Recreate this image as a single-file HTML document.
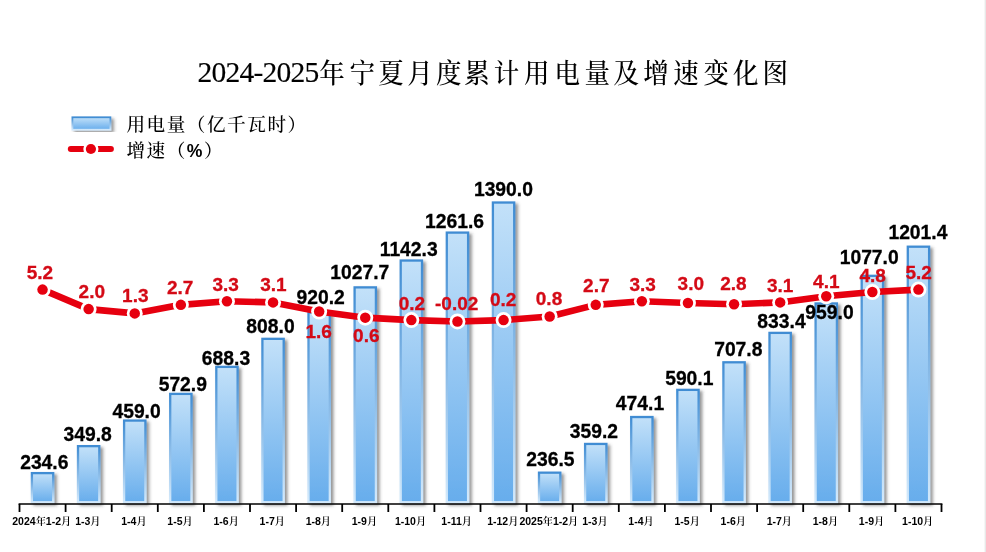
<!DOCTYPE html>
<html lang="zh"><head><meta charset="utf-8"><title>2024-2025年宁夏月度累计用电量及增速变化图</title>
<style>
html,body{margin:0;padding:0;background:#fff;}
body{width:986px;height:552px;overflow:hidden;position:relative;}
svg{display:block;position:absolute;left:0;top:0;}
.t{font-family:"Liberation Serif","Noto Serif CJK SC",serif;font-size:29.5px;fill:#000;stroke:#000;stroke-width:0.15px;}
.tc{font-family:"Liberation Serif","Noto Serif CJK SC",serif;font-size:25.5px;font-weight:500;fill:#000;}
.lg{font-family:"Liberation Serif","Noto Serif CJK SC",serif;font-size:18.6px;font-weight:500;letter-spacing:1.55px;fill:#000;}
.lgb{font-family:"Liberation Sans","Noto Sans CJK SC",sans-serif;font-weight:bold;font-size:17.6px;}
.bl{font-family:"Liberation Sans","Noto Sans CJK SC",sans-serif;font-weight:bold;font-size:19.3px;fill:#000;stroke:#000;stroke-width:0.3px;text-anchor:middle;}
.rl{font-family:"Liberation Sans","Noto Sans CJK SC",sans-serif;font-weight:bold;font-size:19px;fill:#d40a16;stroke:#d40a16;stroke-width:0.3px;text-anchor:middle;}
.cl{font-family:"Liberation Sans","Noto Serif CJK SC",sans-serif;font-weight:bold;font-size:10.5px;fill:#000;text-anchor:middle;}
.cj{font-family:"Liberation Sans","Noto Serif CJK SC",sans-serif;font-weight:600;font-size:10.2px;}
</style></head><body>
<svg width="986" height="552" viewBox="0 0 986 552">
<defs>
<linearGradient id="gf" x1="0" y1="0" x2="0" y2="1"><stop offset="0" stop-color="#c3e1f9"/><stop offset="1" stop-color="#67adec"/></linearGradient>
<linearGradient id="gs" x1="0" y1="0" x2="0" y2="1"><stop offset="0" stop-color="#3f8cd3"/><stop offset="1" stop-color="#d3e9fb"/></linearGradient>
<filter id="sh" x="-30%" y="-10%" width="170%" height="125%"><feDropShadow dx="2.6" dy="2.2" stdDeviation="1.4" flood-color="#404040" flood-opacity="0.55"/></filter>
</defs>
<rect x="0" y="0" width="986" height="552" fill="#ffffff"/>
<rect x="984.6" y="0" width="1.4" height="552" fill="#e8e8e8"/>
<text class="t" x="197.6" y="82.2" textLength="121.6" lengthAdjust="spacing">2024-2025</text>
<text class="tc" transform="translate(0,83) scale(1,1.07)" x="319.2 349.4 378.2 407.2 435.9 464.2 493.8 523.9 554.5 584.4 613.5 643.2 673.2 703.5 733.0 762.5" y="0">年宁夏月度累计用电量及增速变化图</text>
<g filter="url(#sh)"><rect x="72.4" y="117.3" width="38.0" height="12.4" fill="url(#gf)" stroke="url(#gs)" stroke-width="1.8"/></g>
<text class="lg" x="126.4" y="131">用电量（亿千瓦时）</text>
<line x1="70.8" y1="149" x2="110.9" y2="149" stroke="#e6000f" stroke-width="6" stroke-linecap="round"/>
<circle cx="90.9" cy="149" r="7.6" fill="#fff"/><circle cx="90.9" cy="149" r="5.1" fill="#e6000f"/>
<text class="lg" x="126.4" y="156.5">增速（<tspan class="lgb">%</tspan>）</text>
<g filter="url(#sh)">
<rect x="31.90" y="473.13" width="21.30" height="29.12" fill="url(#gf)" stroke="url(#gs)" stroke-width="2.3"/>
<rect x="78.00" y="446.15" width="21.30" height="56.10" fill="url(#gf)" stroke="url(#gs)" stroke-width="2.3"/>
<rect x="124.10" y="420.57" width="21.30" height="81.68" fill="url(#gf)" stroke="url(#gs)" stroke-width="2.3"/>
<rect x="170.20" y="393.90" width="21.30" height="108.35" fill="url(#gf)" stroke="url(#gs)" stroke-width="2.3"/>
<rect x="216.30" y="366.87" width="21.30" height="135.38" fill="url(#gf)" stroke="url(#gs)" stroke-width="2.3"/>
<rect x="262.40" y="338.84" width="21.30" height="163.41" fill="url(#gf)" stroke="url(#gs)" stroke-width="2.3"/>
<rect x="308.50" y="312.56" width="21.30" height="189.69" fill="url(#gf)" stroke="url(#gs)" stroke-width="2.3"/>
<rect x="354.60" y="287.38" width="21.30" height="214.87" fill="url(#gf)" stroke="url(#gs)" stroke-width="2.3"/>
<rect x="400.70" y="260.54" width="21.30" height="241.71" fill="url(#gf)" stroke="url(#gs)" stroke-width="2.3"/>
<rect x="446.80" y="232.60" width="21.30" height="269.65" fill="url(#gf)" stroke="url(#gs)" stroke-width="2.3"/>
<rect x="492.90" y="202.53" width="21.30" height="299.72" fill="url(#gf)" stroke="url(#gs)" stroke-width="2.3"/>
<rect x="539.00" y="472.68" width="21.30" height="29.57" fill="url(#gf)" stroke="url(#gs)" stroke-width="2.3"/>
<rect x="585.10" y="443.95" width="21.30" height="58.30" fill="url(#gf)" stroke="url(#gs)" stroke-width="2.3"/>
<rect x="631.20" y="417.04" width="21.30" height="85.21" fill="url(#gf)" stroke="url(#gs)" stroke-width="2.3"/>
<rect x="677.30" y="389.87" width="21.30" height="112.38" fill="url(#gf)" stroke="url(#gs)" stroke-width="2.3"/>
<rect x="723.40" y="362.30" width="21.30" height="139.95" fill="url(#gf)" stroke="url(#gs)" stroke-width="2.3"/>
<rect x="769.50" y="332.89" width="21.30" height="169.36" fill="url(#gf)" stroke="url(#gs)" stroke-width="2.3"/>
<rect x="815.60" y="303.47" width="21.30" height="198.78" fill="url(#gf)" stroke="url(#gs)" stroke-width="2.3"/>
<rect x="861.70" y="275.84" width="21.30" height="226.41" fill="url(#gf)" stroke="url(#gs)" stroke-width="2.3"/>
<rect x="907.80" y="246.70" width="21.30" height="255.55" fill="url(#gf)" stroke="url(#gs)" stroke-width="2.3"/>
</g>
<line x1="18.60" y1="504.0" x2="942.40" y2="504.0" stroke="#000" stroke-width="1.7"/>
<line x1="19.50" y1="504.0" x2="19.50" y2="512.00" stroke="#000" stroke-width="1.8"/>
<line x1="65.60" y1="504.0" x2="65.60" y2="512.00" stroke="#000" stroke-width="1.8"/>
<line x1="111.70" y1="504.0" x2="111.70" y2="512.00" stroke="#000" stroke-width="1.8"/>
<line x1="157.80" y1="504.0" x2="157.80" y2="512.00" stroke="#000" stroke-width="1.8"/>
<line x1="203.90" y1="504.0" x2="203.90" y2="512.00" stroke="#000" stroke-width="1.8"/>
<line x1="250.00" y1="504.0" x2="250.00" y2="512.00" stroke="#000" stroke-width="1.8"/>
<line x1="296.10" y1="504.0" x2="296.10" y2="512.00" stroke="#000" stroke-width="1.8"/>
<line x1="342.20" y1="504.0" x2="342.20" y2="512.00" stroke="#000" stroke-width="1.8"/>
<line x1="388.30" y1="504.0" x2="388.30" y2="512.00" stroke="#000" stroke-width="1.8"/>
<line x1="434.40" y1="504.0" x2="434.40" y2="512.00" stroke="#000" stroke-width="1.8"/>
<line x1="480.50" y1="504.0" x2="480.50" y2="512.00" stroke="#000" stroke-width="1.8"/>
<line x1="526.60" y1="504.0" x2="526.60" y2="512.00" stroke="#000" stroke-width="1.8"/>
<line x1="572.70" y1="504.0" x2="572.70" y2="512.00" stroke="#000" stroke-width="1.8"/>
<line x1="618.80" y1="504.0" x2="618.80" y2="512.00" stroke="#000" stroke-width="1.8"/>
<line x1="664.90" y1="504.0" x2="664.90" y2="512.00" stroke="#000" stroke-width="1.8"/>
<line x1="711.00" y1="504.0" x2="711.00" y2="512.00" stroke="#000" stroke-width="1.8"/>
<line x1="757.10" y1="504.0" x2="757.10" y2="512.00" stroke="#000" stroke-width="1.8"/>
<line x1="803.20" y1="504.0" x2="803.20" y2="512.00" stroke="#000" stroke-width="1.8"/>
<line x1="849.30" y1="504.0" x2="849.30" y2="512.00" stroke="#000" stroke-width="1.8"/>
<line x1="895.40" y1="504.0" x2="895.40" y2="512.00" stroke="#000" stroke-width="1.8"/>
<line x1="941.50" y1="504.0" x2="941.50" y2="512.00" stroke="#000" stroke-width="1.8"/>
<text class="cl" x="41.75" y="524.8">2024<tspan class="cj">年</tspan>1-2<tspan class="cj">月</tspan></text>
<text class="cl" x="87.85" y="524.8">1-3<tspan class="cj">月</tspan></text>
<text class="cl" x="133.95" y="524.8">1-4<tspan class="cj">月</tspan></text>
<text class="cl" x="180.05" y="524.8">1-5<tspan class="cj">月</tspan></text>
<text class="cl" x="226.15" y="524.8">1-6<tspan class="cj">月</tspan></text>
<text class="cl" x="272.25" y="524.8">1-7<tspan class="cj">月</tspan></text>
<text class="cl" x="318.35" y="524.8">1-8<tspan class="cj">月</tspan></text>
<text class="cl" x="364.45" y="524.8">1-9<tspan class="cj">月</tspan></text>
<text class="cl" x="410.55" y="524.8">1-10<tspan class="cj">月</tspan></text>
<text class="cl" x="456.65" y="524.8">1-11<tspan class="cj">月</tspan></text>
<text class="cl" x="502.75" y="524.8">1-12<tspan class="cj">月</tspan></text>
<text class="cl" x="548.85" y="524.8">2025<tspan class="cj">年</tspan>1-2<tspan class="cj">月</tspan></text>
<text class="cl" x="594.95" y="524.8">1-3<tspan class="cj">月</tspan></text>
<text class="cl" x="641.05" y="524.8">1-4<tspan class="cj">月</tspan></text>
<text class="cl" x="687.15" y="524.8">1-5<tspan class="cj">月</tspan></text>
<text class="cl" x="733.25" y="524.8">1-6<tspan class="cj">月</tspan></text>
<text class="cl" x="779.35" y="524.8">1-7<tspan class="cj">月</tspan></text>
<text class="cl" x="825.45" y="524.8">1-8<tspan class="cj">月</tspan></text>
<text class="cl" x="871.55" y="524.8">1-9<tspan class="cj">月</tspan></text>
<text class="cl" x="917.65" y="524.8">1-10<tspan class="cj">月</tspan></text>
<text class="bl" x="44.3" y="469.1">234.6</text>
<text class="bl" x="87.7" y="440.9">349.8</text>
<text class="bl" x="136.6" y="418.3">459.0</text>
<text class="bl" x="182.8" y="391.1">572.9</text>
<text class="bl" x="226.0" y="365.3">688.3</text>
<text class="bl" x="270.5" y="333.0">808.0</text>
<text class="bl" x="320.7" y="304.3">920.2</text>
<text class="bl" x="359.8" y="279.2">1027.7</text>
<text class="bl" x="408.7" y="256.4">1142.3</text>
<text class="bl" x="454.6" y="228.0">1261.6</text>
<text class="bl" x="503.4" y="196.1">1390.0</text>
<text class="bl" x="550.4" y="465.7">236.5</text>
<text class="bl" x="593.9" y="438.0">359.2</text>
<text class="bl" x="640.0" y="409.6">474.1</text>
<text class="bl" x="689.3" y="385.2">590.1</text>
<text class="bl" x="738.3" y="355.8">707.8</text>
<text class="bl" x="781.5" y="327.5">833.4</text>
<text class="bl" x="829.5" y="319.3">959.0</text>
<text class="bl" x="869.2" y="263.9">1077.0</text>
<text class="bl" x="917.9" y="239.4">1201.4</text>
<path d="M42.55,289.60 C42.55,289.60 88.65,309.12 88.65,309.12 C88.65,309.12 134.75,313.39 134.75,313.39 C134.75,313.39 180.85,304.85 180.85,304.85 C180.85,304.85 226.95,301.19 226.95,301.19 C226.95,301.19 273.05,302.41 273.05,302.41 C273.05,302.41 319.15,311.56 319.15,311.56 C319.15,311.56 365.25,317.66 365.25,317.66 C365.25,317.66 411.35,320.10 411.35,320.10 C411.35,320.10 457.45,321.44 457.45,321.44 C457.45,321.44 503.55,320.10 503.55,320.10 C503.55,320.10 549.65,316.44 549.65,316.44 C549.65,316.44 595.75,304.85 595.75,304.85 C595.75,304.85 641.85,301.19 641.85,301.19 C641.85,301.19 687.95,303.02 687.95,303.02 C687.95,303.02 734.05,304.24 734.05,304.24 C734.05,304.24 780.15,302.41 780.15,302.41 C780.15,302.41 826.25,296.31 826.25,296.31 C826.25,296.31 872.35,292.04 872.35,292.04 C872.35,292.04 918.45,289.60 918.45,289.60" fill="none" stroke="#e6000f" stroke-width="6.6" stroke-linejoin="round" stroke-linecap="round"/>
<circle cx="42.55" cy="289.60" r="8.0" fill="#fff"/><circle cx="42.55" cy="289.60" r="5.25" fill="#e6000f"/>
<circle cx="88.65" cy="309.12" r="8.0" fill="#fff"/><circle cx="88.65" cy="309.12" r="5.25" fill="#e6000f"/>
<circle cx="134.75" cy="313.39" r="8.0" fill="#fff"/><circle cx="134.75" cy="313.39" r="5.25" fill="#e6000f"/>
<circle cx="180.85" cy="304.85" r="8.0" fill="#fff"/><circle cx="180.85" cy="304.85" r="5.25" fill="#e6000f"/>
<circle cx="226.95" cy="301.19" r="8.0" fill="#fff"/><circle cx="226.95" cy="301.19" r="5.25" fill="#e6000f"/>
<circle cx="273.05" cy="302.41" r="8.0" fill="#fff"/><circle cx="273.05" cy="302.41" r="5.25" fill="#e6000f"/>
<circle cx="319.15" cy="311.56" r="8.0" fill="#fff"/><circle cx="319.15" cy="311.56" r="5.25" fill="#e6000f"/>
<circle cx="365.25" cy="317.66" r="8.0" fill="#fff"/><circle cx="365.25" cy="317.66" r="5.25" fill="#e6000f"/>
<circle cx="411.35" cy="320.10" r="8.0" fill="#fff"/><circle cx="411.35" cy="320.10" r="5.25" fill="#e6000f"/>
<circle cx="457.45" cy="321.44" r="8.0" fill="#fff"/><circle cx="457.45" cy="321.44" r="5.25" fill="#e6000f"/>
<circle cx="503.55" cy="320.10" r="8.0" fill="#fff"/><circle cx="503.55" cy="320.10" r="5.25" fill="#e6000f"/>
<circle cx="549.65" cy="316.44" r="8.0" fill="#fff"/><circle cx="549.65" cy="316.44" r="5.25" fill="#e6000f"/>
<circle cx="595.75" cy="304.85" r="8.0" fill="#fff"/><circle cx="595.75" cy="304.85" r="5.25" fill="#e6000f"/>
<circle cx="641.85" cy="301.19" r="8.0" fill="#fff"/><circle cx="641.85" cy="301.19" r="5.25" fill="#e6000f"/>
<circle cx="687.95" cy="303.02" r="8.0" fill="#fff"/><circle cx="687.95" cy="303.02" r="5.25" fill="#e6000f"/>
<circle cx="734.05" cy="304.24" r="8.0" fill="#fff"/><circle cx="734.05" cy="304.24" r="5.25" fill="#e6000f"/>
<circle cx="780.15" cy="302.41" r="8.0" fill="#fff"/><circle cx="780.15" cy="302.41" r="5.25" fill="#e6000f"/>
<circle cx="826.25" cy="296.31" r="8.0" fill="#fff"/><circle cx="826.25" cy="296.31" r="5.25" fill="#e6000f"/>
<circle cx="872.35" cy="292.04" r="8.0" fill="#fff"/><circle cx="872.35" cy="292.04" r="5.25" fill="#e6000f"/>
<circle cx="918.45" cy="289.60" r="8.0" fill="#fff"/><circle cx="918.45" cy="289.60" r="5.25" fill="#e6000f"/>
<text class="rl" x="39.9" y="279.2">5.2</text>
<text class="rl" x="91.8" y="297.5">2.0</text>
<text class="rl" x="135.3" y="302.3">1.3</text>
<text class="rl" x="180.2" y="293.8">2.7</text>
<text class="rl" x="225.7" y="291.4">3.3</text>
<text class="rl" x="273.4" y="291.3">3.1</text>
<text class="rl" x="318.7" y="337.9">1.6</text>
<text class="rl" x="366.3" y="342.1">0.6</text>
<text class="rl" x="411.9" y="309.5">0.2</text>
<text class="rl" x="456.7" y="309.5">-0.02</text>
<text class="rl" x="503.1" y="306.2">0.2</text>
<text class="rl" x="549.0" y="305.3">0.8</text>
<text class="rl" x="596.3" y="292.2">2.7</text>
<text class="rl" x="642.7" y="290.6">3.3</text>
<text class="rl" x="690.8" y="290.0">3.0</text>
<text class="rl" x="733.4" y="290.0">2.8</text>
<text class="rl" x="780.2" y="291.6">3.1</text>
<text class="rl" x="826.3" y="288.3">4.1</text>
<text class="rl" x="872.7" y="281.8">4.8</text>
<text class="rl" x="918.7" y="278.6">5.2</text>
</svg></body></html>
